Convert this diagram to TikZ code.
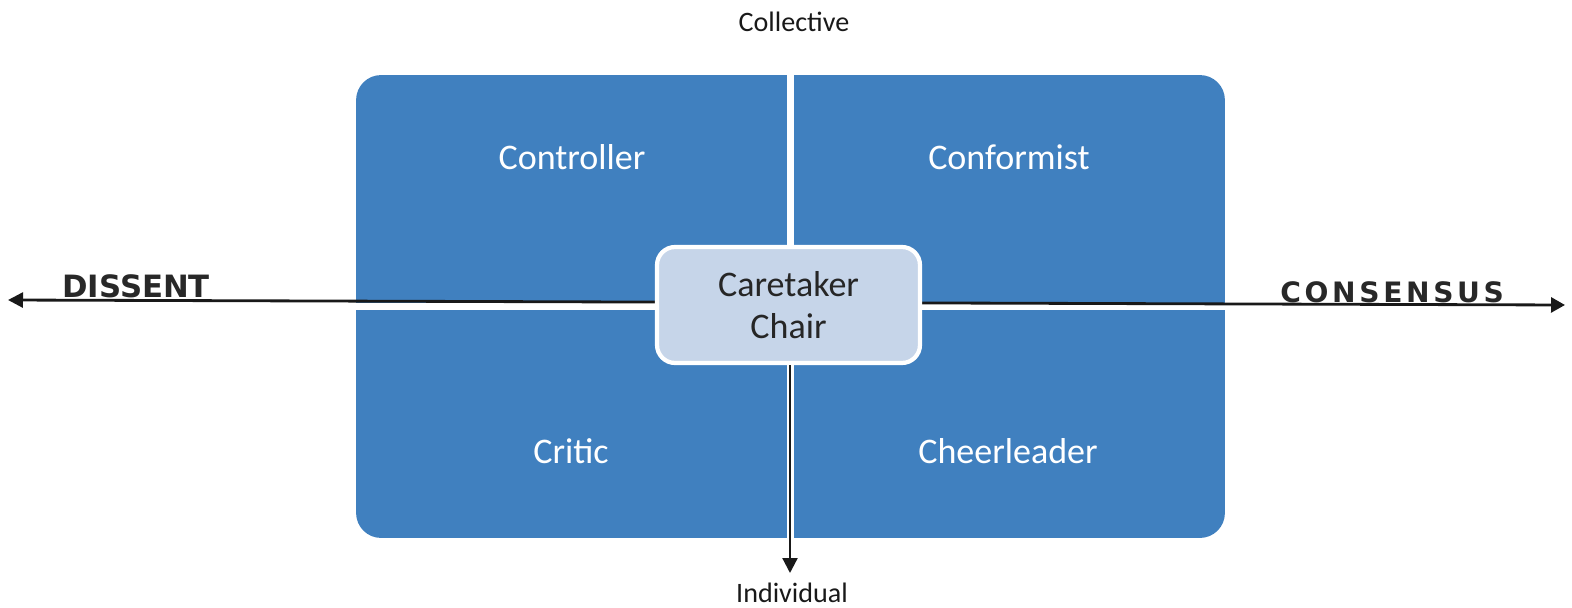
\documentclass[tikz,border=0pt]{standalone}
\usepackage{fontspec}
\setmainfont{Carlito}
\newfontfamily\handfont{DejaVu Sans}
\usepackage{tikz}
\usetikzlibrary{arrows.meta,positioning}

\definecolor{quadblue}{RGB}{64,128,191}
\definecolor{chairblue}{RGB}{198,213,233}
\definecolor{marker}{RGB}{40,40,40}

\begin{document}
\begin{tikzpicture}[
    x=0.02cm, y=-0.02cm,
    quadlabel/.style={anchor=base, text=white, font=\fontsize{20.5}{24}\selectfont},
    axislabel/.style={anchor=base, text=black!90, font=\fontsize{16}{19}\selectfont},
    handlabel/.style={anchor=base west, inner sep=0pt, text=marker},
    gapline/.style={white, line width=4.2pt},
    axisline/.style={draw=black!90, line width=1.6pt, -{Triangle[length=0.3cm, width=0.3cm]}},
    chair/.style={rectangle, rounded corners=0.36cm, fill=chairblue, draw=white, line width=2.4pt, minimum width=5.26cm, minimum height=2.32cm, align=center, text=black!85, font=\fontsize{20.5}{24}\selectfont}
]
\useasboundingbox (0,0) rectangle (1572,608);

% panel and quadrants
\node[fill=quadblue, rounded corners=0.5cm, inner sep=0pt, minimum width=17.38cm, minimum height=9.26cm] (panel) at (790.5,306.5) {};
\draw[gapline] (panel.north) -- (panel.south);
\draw[gapline] (panel.west |- 0,306.5) -- (panel.east |- 0,306.5);

\node[quadlabel] (controller) at (572,170) {Controller};
\node[quadlabel] (conformist) at (1009,170) {Conformist};
\node[quadlabel] (critic) at (571,463) {Critic};
\node[quadlabel] (cheerleader) at (1008,463) {Cheerleader};

% axes
\coordinate (dissentend) at (8,300);
\coordinate (consensusend) at (1565,305);
\draw[axisline, {Triangle[length=0.3cm, width=0.3cm]}-{Triangle[length=0.28cm, width=0.3cm]}] (dissentend) -- (consensusend);

\node[chair] (caretaker) at (788.5,305) {Caretaker\\Chair};

\node[axislabel] (collective) at (794,32) {Collective};
\node[axislabel] (individual) at (792,602) {Individual};
\coordinate (individualend) at (790,573);
\draw[axisline, line width=1.3pt] (caretaker.south -| individualend) -- (individualend);

\node[handlabel, font=\handfont\bfseries\fontsize{17.5}{20}\selectfont] (dissent) at (62,297) {DISSENT};
\node[handlabel, font=\handfont\bfseries\fontsize{16}{19}\selectfont\addfontfeature{LetterSpace=13}] (consensus) at (1280,302) {CONSENSUS};

\end{tikzpicture}
\end{document}
